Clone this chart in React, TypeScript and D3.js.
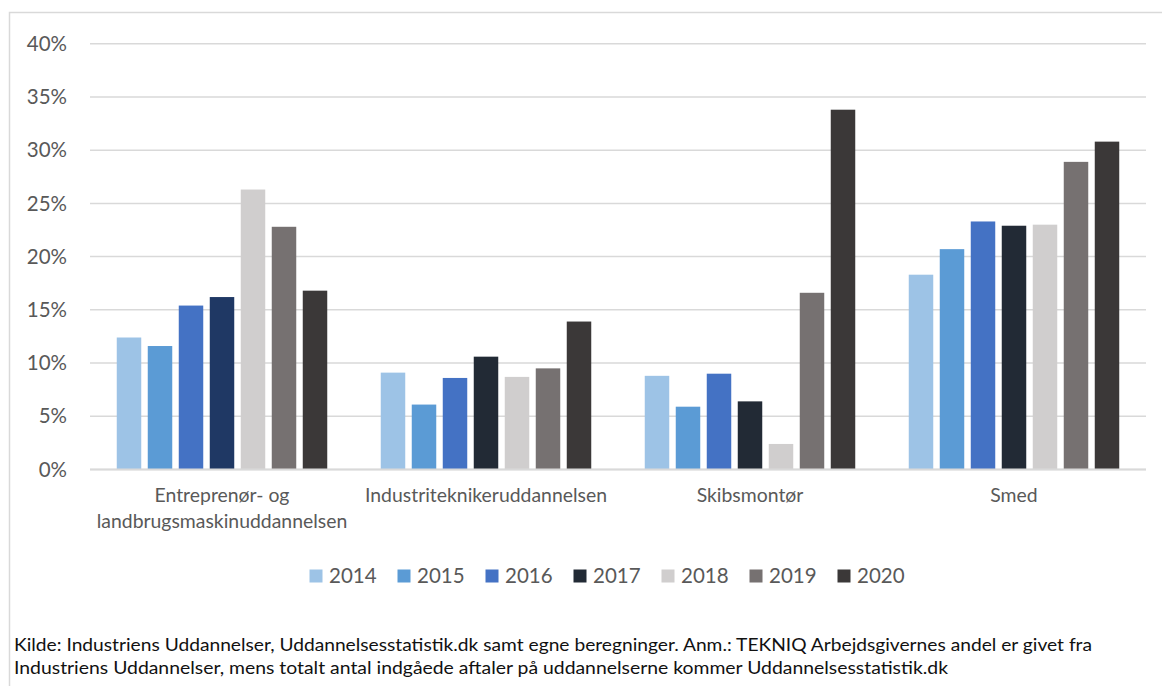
import React from "react";
import * as d3 from "d3";

const categories: string[][] = [
  ["Entreprenør- og", "landbrugsmaskinuddannelsen"],
  ["Industriteknikeruddannelsen"],
  ["Skibsmontør"],
  ["Smed"],
];
const categoryKeys = ["Entreprenør- og landbrugsmaskinuddannelsen", "Industriteknikeruddannelsen", "Skibsmontør", "Smed"];
const years = ["2014", "2015", "2016", "2017", "2018", "2019", "2020"];

// values in percent, index per category
const v2014 = [12.4, 9.1, 8.8, 18.3];
const v2015 = [11.6, 6.1, 5.9, 20.7];
const v2016 = [15.4, 8.6, 9.0, 23.3];
const v2017 = [16.2, 10.6, 6.4, 22.9];
const v2018 = [26.3, 8.7, 2.4, 23.0];
const v2019 = [22.8, 9.5, 16.6, 28.9];
const v2020 = [16.8, 13.9, 33.8, 30.8];
const seriesValues = [v2014, v2015, v2016, v2017, v2018, v2019, v2020];

const yTicks = [0, 5, 10, 15, 20, 25, 30, 35, 40];

const colors = ["#9DC3E6", "#5B9BD5", "#4472C4", "#222A35", "#D0CECE", "#767171", "#3B3838"];
const colorOverride: Record<string, string> = { "0-3": "#1F3864" };

const footer = [
  "Kilde: Industriens Uddannelser, Uddannelsesstatistik.dk samt egne beregninger. Anm.: TEKNIQ Arbejdsgivernes andel er givet fra",
  "Industriens Uddannelser, mens totalt antal indgåede aftaler på uddannelserne kommer Uddannelsesstatistik.dk",
];
const footerWidths = [1078, 934];

const FONT = "Lato, 'Open Sans', sans-serif";

export default function App() {
  const W = 1162;
  const H = 686;
  const x0 = d3.scaleBand<string>().domain(categoryKeys).range([90, 1146]).padding(0);
  const x1 = d3
    .scaleBand<string>()
    .domain(years)
    .range([0, x0.bandwidth()])
    .paddingInner(0.21)
    .paddingOuter(0.863);
  const y = d3.scaleLinear().domain([0, 40]).range([469.5, 43.7]);

  return (
    <svg
      width={W}
      height={H}
      style={{ position: "absolute", left: 0, top: 0, background: "#fff" }}
      fontFamily={FONT}
    >
      <rect x={0} y={0} width={W} height={H} fill="#fff" />
      <rect x={9.5} y={12.5} width={W + 20} height={H + 20} fill="none" stroke="#D9D9D9" strokeWidth={1.5} />

      {yTicks.map((t) => (
        <g key={t}>
          <line x1={90} x2={1146} y1={y(t)} y2={y(t)} stroke="#D9D9D9" strokeWidth={1.5} />
          <text x={67} y={y(t)} dy="0.35em" textAnchor="end" fontSize={20.5} fill="#595959">
            {t}%
          </text>
        </g>
      ))}

      {categoryKeys.map((c, ci) => (
        <g key={c} transform={`translate(${x0(c)},0)`}>
          {years.map((yr, si) => {
            const v = seriesValues[si][ci];
            const fill = colorOverride[`${ci}-${si}`] ?? colors[si];
            return (
              <rect
                key={yr}
                x={x1(yr)}
                y={y(v)}
                width={x1.bandwidth()}
                height={y(0) - y(v)}
                fill={fill}
              />
            );
          })}
        </g>
      ))}

      <line x1={90} x2={1146} y1={y(0)} y2={y(0)} stroke="#D9D9D9" strokeWidth={2} />

      {categories.map((lines, ci) => (
        <text
          key={ci}
          x={(x0(categoryKeys[ci]) as number) + x0.bandwidth() / 2}
          textAnchor="middle"
          fontSize={19.4}
          fill="#595959"
        >
          {lines.map((l, li) => (
            <tspan key={li} x={(x0(categoryKeys[ci]) as number) + x0.bandwidth() / 2} y={495 + li * 26.5} dy="0.35em">
              {l}
            </tspan>
          ))}
        </text>
      ))}

      {years.map((yr, i) => {
        const lx = 309.5 + i * 88;
        return (
          <g key={yr}>
            <rect x={lx} y={569.5} width={13} height={13} fill={colors[i]} />
            <text x={lx + 19.5} y={576} dy="0.35em" fontSize={20.5} fill="#595959">
              {yr}
            </text>
          </g>
        );
      })}

      {footer.map((f, i) => (
        <text
          key={i}
          x={14}
          y={645 + i * 23}
          dy="0.35em"
          fontSize={17}
          fill="#111"
          textLength={footerWidths[i]}
          lengthAdjust="spacingAndGlyphs"
        >
          {f}
        </text>
      ))}
    </svg>
  );
}
